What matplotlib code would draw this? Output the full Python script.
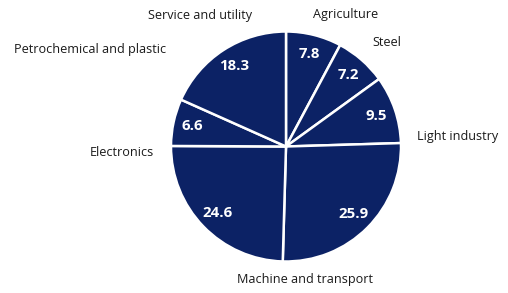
import matplotlib.pyplot as plt
import numpy as np

# Share by sector (%), clockwise from 12 o'clock
sectors = ["Agriculture", "Steel", "Light industry", "Machine and transport",
           "Electronics", "Petrochemical and plastic", "Service and utility"]
shares = [7.8, 7.2, 9.5, 25.9, 24.6, 6.6, 18.3]

# where each category label sits (in pie radius units, relative to centre)
label_xy = [(0.52, 1.145), (0.88, 0.90), (1.49, 0.09), (0.165, -1.16),
            (-1.43, -0.05), (-1.70, 0.84), (-0.75, 1.135)]

navy = "#0c2265"

fig = plt.figure(figsize=(5.08, 2.93), dpi=100)
ax = fig.add_axes([0, 0, 1, 1])

wedges, texts = ax.pie(shares, startangle=90, counterclock=False,
                       colors=[navy] * len(shares),
                       wedgeprops=dict(edgecolor="white", linewidth=1.8))

# value labels inside the slices
total = sum(shares)
cum = np.cumsum([0] + shares)
for i, v in enumerate(shares):
    mid = np.deg2rad(90 - 360 * (cum[i] + v / 2) / total)
    ax.text(0.83 * np.cos(mid), 0.83 * np.sin(mid), f"{v:.1f}",
            ha="center", va="center", color="white", fontsize=10.8,
            fontweight="bold", family="Open Sans")

for name, (x, y) in zip(sectors, label_xy):
    ax.text(x, y, name, ha="center", va="center", color="#1a1a1a",
            fontsize=9.1, family="Open Sans")

# pie centre at (286, 146.5) px, radius 115 px
r = 115.0
ax.set_xlim(-286 / r, (508 - 286) / r)
ax.set_ylim(-(293 - 146.5) / r, 146.5 / r)
ax.axis("off")

fig.savefig("out.png", dpi=100)
